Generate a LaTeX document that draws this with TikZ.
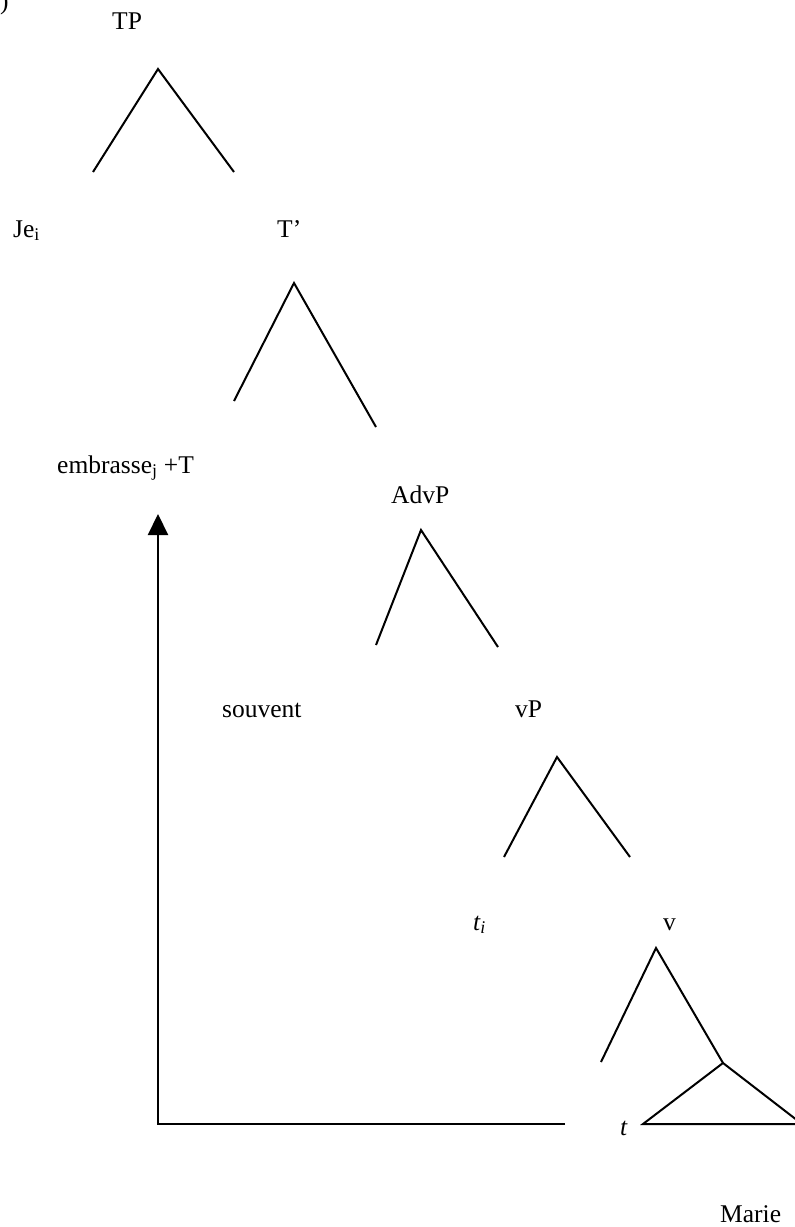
\documentclass[tikz,border=0pt]{standalone}
\usepackage{fontspec}
\setmainfont{Liberation Serif}
\usetikzlibrary{arrows.meta}
\begin{document}
\begin{tikzpicture}[x=1pt,y=-1pt,
  lbl/.style={anchor=base west,inner sep=0pt,font=\fontsize{25.5}{30}\selectfont},
  branch/.style={line width=2pt,line cap=butt},
  movearrow/.style={line width=2.2pt,-{Triangle[length=21pt,width=20pt]}}]
\useasboundingbox (0,0) rectangle (795,1227);
% labels
\node[lbl] (paren) at (0,9) {)};
\node[lbl] (TP) at (112,29) {TP};
\node[lbl] (Je) at (13,237) {Je\textsubscript{i}};
\node[lbl] (Tbar) at (277,237) {T’};
\node[lbl] (emb) at (57,473) {embrasse\textsubscript{j} +T};
\node[lbl] (AdvP) at (391,503) {AdvP};
\node[lbl] (souvent) at (222,717) {souvent};
\node[lbl] (vP) at (515,717) {vP};
\node[lbl] (ti) at (473,930) {\textit{t\textsubscript{i}}};
\node[lbl] (v) at (663,930) {v};
\node[lbl] (t) at (620,1135) {\textit{t}};
\node[lbl] (Marie) at (720,1222) {Marie};
% branch points
\coordinate (a1) at (158,69);  \coordinate (l1) at (93,172);  \coordinate (r1) at (234,172);
\coordinate (a2) at (294,283); \coordinate (l2) at (234,401); \coordinate (r2) at (376,427);
\coordinate (a3) at (421,530); \coordinate (l3) at (376,645); \coordinate (r3) at (498,647);
\coordinate (a4) at (557,757); \coordinate (l4) at (504,857); \coordinate (r4) at (630,857);
\coordinate (a5) at (656,948); \coordinate (l5) at (601,1062); \coordinate (r5) at (723,1063);
\coordinate (bl) at (643,1124); \coordinate (br) at (802,1124);
\draw[branch] (l1) -- (a1) -- (r1);
\draw[branch] (l2) -- (a2) -- (r2);
\draw[branch] (l3) -- (a3) -- (r3);
\draw[branch] (l4) -- (a4) -- (r4);
\draw[branch] (l5) -- (a5) -- (r5);
\draw[branch,line join=miter] (r5) -- (bl) -- (br) -- cycle;
% movement arrow
\coordinate (hend) at (565,1124);
\coordinate (corner) at (158,1124);
\coordinate (tip) at (158,514);
\draw[movearrow] (hend) -- (corner) -- (tip);
\end{tikzpicture}
\end{document}
